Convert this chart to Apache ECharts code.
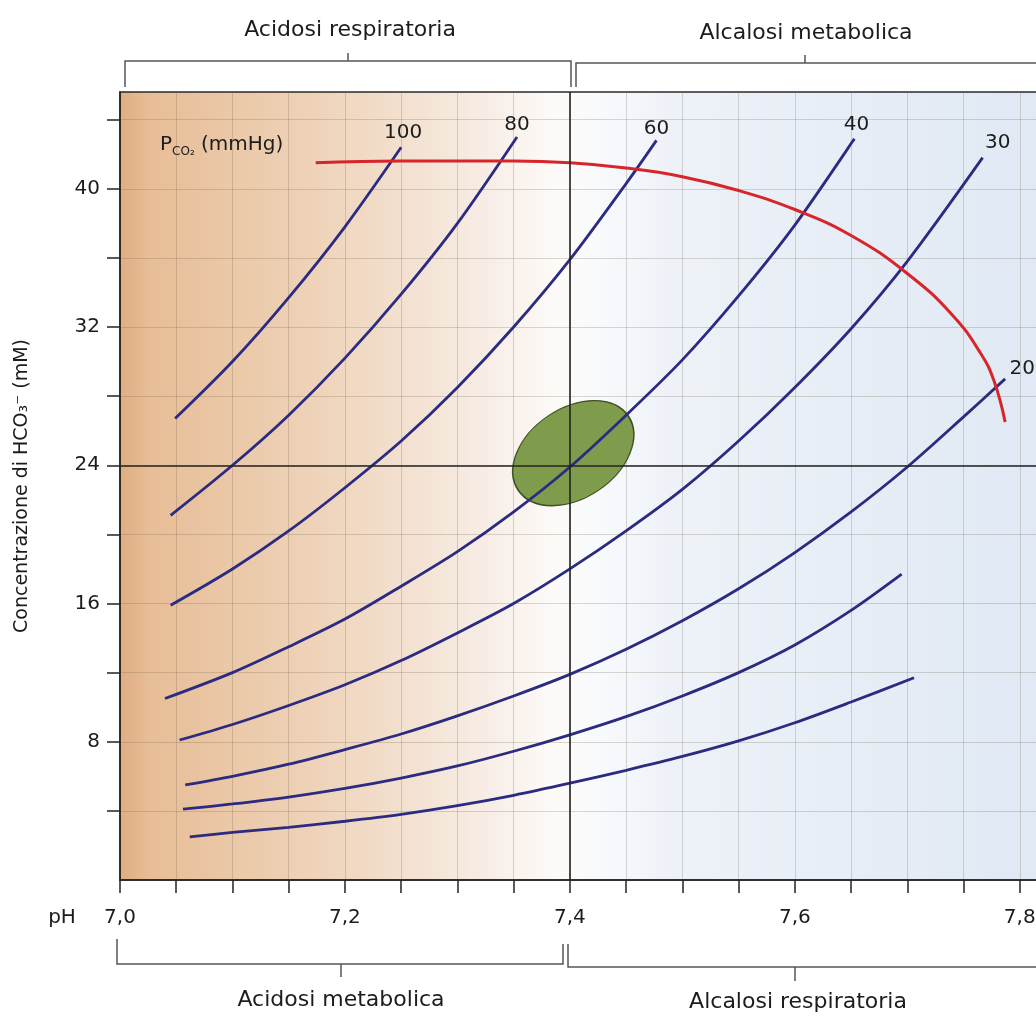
<!DOCTYPE html>
<html>
<head>
<meta charset="utf-8">
<title>Diagramma di Davenport</title>
<script src="https://cdn.jsdelivr.net/npm/echarts@6/dist/echarts.min.js"></script>
<style>
  html, body { margin: 0; padding: 0; background: #fff; }
  #chart { width: 1036px; height: 1018px; }
</style>
</head>
<body>
<div id="chart"></div>
<script>
// Isobare PCO2 (mmHg): coppie [pH, HCO3- mM]
const pco2Levels = [100, 80, 60, 40, 30, 20, 15, 10];
const isobar100 = [[7.049, 26.7], [7.10, 30.0], [7.15, 33.7], [7.20, 37.8], [7.25, 42.4]];
const isobar80 = [[7.045, 21.1], [7.10, 24.0], [7.15, 26.9], [7.20, 30.2], [7.25, 33.9], [7.30, 38.0], [7.353, 43.0]];
const isobar60 = [[7.045, 15.9], [7.10, 18.0], [7.15, 20.2], [7.20, 22.7], [7.25, 25.4], [7.30, 28.5], [7.35, 32.0],
  [7.40, 35.9], [7.45, 40.3], [7.477, 42.8]];
const isobar40 = [[7.040, 10.5], [7.10, 12.0], [7.15, 13.5], [7.20, 15.1], [7.25, 17.0], [7.30, 19.0], [7.35, 21.3],
  [7.40, 23.9], [7.45, 26.9], [7.50, 30.1], [7.55, 33.8], [7.60, 37.9], [7.653, 42.9]];
const isobar30 = [[7.053, 8.1], [7.10, 9.0], [7.15, 10.1], [7.20, 11.3], [7.25, 12.7], [7.30, 14.3], [7.35, 16.0],
  [7.40, 18.0], [7.45, 20.2], [7.50, 22.6], [7.55, 25.4], [7.60, 28.5], [7.65, 31.9], [7.70, 35.8], [7.767, 41.8]];
const isobar20 = [[7.058, 5.5], [7.10, 6.0], [7.15, 6.7], [7.20, 7.55], [7.25, 8.45], [7.30, 9.5], [7.35, 10.65],
  [7.40, 11.9], [7.45, 13.35], [7.50, 15.0], [7.55, 16.85], [7.60, 18.95], [7.65, 21.3], [7.70, 23.9], [7.75, 26.8], [7.787, 29.0]];
const isobar15 = [[7.056, 4.1], [7.10, 4.4], [7.15, 4.8], [7.20, 5.3], [7.25, 5.9], [7.30, 6.6], [7.35, 7.45],
  [7.40, 8.4], [7.45, 9.45], [7.50, 10.65], [7.55, 12.0], [7.60, 13.6], [7.65, 15.6], [7.695, 17.7]];
const isobar10 = [[7.062, 2.5], [7.10, 2.75], [7.15, 3.05], [7.20, 3.4], [7.25, 3.8], [7.30, 4.3], [7.35, 4.9],
  [7.40, 5.6], [7.45, 6.35], [7.50, 7.15], [7.55, 8.05], [7.60, 9.1], [7.65, 10.3], [7.706, 11.7]];
const isobars = [isobar100, isobar80, isobar60, isobar40, isobar30, isobar20, isobar15, isobar10];

// curva rossa
const bufferLine = [[7.174, 41.5], [7.25, 41.6], [7.35, 41.6], [7.40, 41.5], [7.45, 41.2], [7.50, 40.7],
  [7.55, 39.9], [7.60, 38.8], [7.65, 37.3], [7.70, 35.1], [7.74, 32.7], [7.765, 30.5], [7.777, 28.9], [7.787, 26.5]];

// zona normale (ellisse verde): centro, semiassi [pH, mM], inclinazione in gradi
const normalCenter = [7.403, 24.7];
const normalRadii = [0.059, 2.6];
const normalTilt = 34;

// etichette delle isobare (solo le prime sei)
const labelledLevels = [100, 80, 60, 40, 30, 20];
const labelOffsets = { 100: [2, -15], 80: [0, -12], 60: [0, -12], 40: [2, -14], 30: [15, -15], 20: [17, -10] };

const xTickLabels = ['7,0', '7,2', '7,4', '7,6', '7,8'];
const yTickValues = [4, 8, 12, 16, 20, 24, 28, 32, 36, 40, 44];
const yTickLabels = [8, 16, 24, 32, 40];

const FONT = '"DejaVu Sans", "Liberation Sans", sans-serif';
const BLUE = '#2b2b82';
const INK = '#1c1c1c';

const chart = echarts.init(document.getElementById('chart'), null, { renderer: 'canvas' });

const isobarSeries = isobars.map((pts, i) => ({
  name: 'PCO2 ' + pco2Levels[i],
  type: 'line',
  data: pts,
  smooth: 0.3,
  showSymbol: false,
  symbol: 'none',
  lineStyle: { color: BLUE, width: 2.8 },
  z: 3
}));

const labelData = labelledLevels.map(level => {
  const pts = isobars[pco2Levels.indexOf(level)];
  const last = pts[pts.length - 1];
  return {
    value: last,
    name: String(level),
    label: { offset: labelOffsets[level] }
  };
});

chart.setOption({
  animation: false,
  textStyle: { fontFamily: FONT },
  grid: {
    left: 120, top: 92, width: 956, height: 788,
    outerBoundsMode: 'none',
    containLabel: false,
    show: true,
    borderColor: '#2a2a2a',
    borderWidth: 1.5,
    backgroundColor: {
      type: 'linear', x: 0, y: 0, x2: 1, y2: 0,
      colorStops: [
        { offset: 0, color: '#e0ad80' },
        { offset: 0.03, color: '#e7bd96' },
        { offset: 0.22, color: '#efd5bc' },
        { offset: 0.377, color: '#f7ece4' },
        { offset: 0.46, color: '#fdfbf9' },
        { offset: 0.5, color: '#f8fafd' },
        { offset: 0.575, color: '#eef2f8' },
        { offset: 0.958, color: '#e0e9f4' },
        { offset: 1, color: '#dde7f3' }
      ]
    }
  },
  xAxis: {
    type: 'value',
    min: 7.0, max: 7.85, interval: 0.05,
    axisLine: { show: true, lineStyle: { color: '#222', width: 1.5 } },
    axisTick: { show: true, inside: false, length: 13, lineStyle: { color: '#222', width: 1.5 } },
    axisLabel: {
      margin: 28, color: INK, fontSize: 20, fontFamily: FONT,
      formatter: v => {
        const k = Math.round((v - 7) * 100);
        return k % 20 === 0 ? (xTickLabels[k / 20] || '') : '';
      }
    },
    splitLine: { show: true, lineStyle: { color: 'rgba(110,100,75,0.25)', width: 1 } }
  },
  yAxis: {
    type: 'value',
    min: 0, max: 45.6, interval: 4,
    name: 'Concentrazione di HCO₃⁻ (mM)',
    nameLocation: 'middle',
    nameRotate: 90,
    nameGap: 88,
    nameTextStyle: { fontSize: 19, color: INK, fontFamily: FONT },
    axisLine: { show: true, lineStyle: { color: '#222', width: 1.5 } },
    axisTick: { show: true, inside: false, length: 13, customValues: yTickValues, lineStyle: { color: '#222', width: 1.5 } },
    axisLabel: {
      margin: 20, color: INK, fontSize: 20, fontFamily: FONT,
      customValues: yTickLabels,
      formatter: v => (yTickLabels.indexOf(Math.round(v * 10) / 10) >= 0 ? String(v) : '')
    },
    splitLine: { show: true, lineStyle: { color: 'rgba(110,100,75,0.25)', width: 1 } }
  },
  series: [
    {
      name: 'normale',
      type: 'custom',
      data: [[normalCenter[0], normalCenter[1], normalRadii[0], normalRadii[1], normalTilt]],
      renderItem: (params, api) => {
        const c = api.coord([api.value(0), api.value(1)]);
        const s = api.size([api.value(2), api.value(3)]);
        return {
          type: 'circle',
          x: c[0], y: c[1],
          rotation: api.value(4) * Math.PI / 180,
          scaleX: s[0] / s[1],
          shape: { cx: 0, cy: 0, r: s[1] },
          style: { fill: '#7f9c4d', stroke: '#3e5122', lineWidth: 1.1 }
        };
      },
      z: 1
    },
    {
      name: 'riferimento',
      type: 'line',
      data: [],
      markLine: {
        silent: true,
        symbol: 'none',
        label: { show: false },
        lineStyle: { color: '#222', width: 1.6, type: 'solid' },
        data: [{ xAxis: 7.4 }, { yAxis: 24 }]
      },
      z: 2
    },
    ...isobarSeries,
    {
      name: 'tampone',
      type: 'line',
      data: bufferLine,
      smooth: 0.45,
      showSymbol: false,
      symbol: 'none',
      lineStyle: { color: '#d6262b', width: 3 },
      z: 4
    },
    {
      name: 'etichette',
      type: 'scatter',
      data: labelData,
      symbolSize: 0,
      itemStyle: { opacity: 1 },
      label: {
        show: true, position: 'inside',
        formatter: p => p.name,
        color: INK, fontSize: 20, fontFamily: FONT, opacity: 1
      },
      z: 5
    }
  ],
  graphic: [
    // parentesi superiori
    { type: 'polyline', shape: { points: [[125, 87], [125, 61], [571, 61], [571, 87]] }, style: { stroke: '#555', lineWidth: 1.5, fill: null } },
    { type: 'line', shape: { x1: 348, y1: 61, x2: 348, y2: 53 }, style: { stroke: '#555', lineWidth: 1.5 } },
    { type: 'text', x: 350, y: 30, style: { text: 'Acidosi respiratoria', font: '22px ' + FONT, fill: INK, align: 'center', verticalAlign: 'middle' } },
    { type: 'polyline', shape: { points: [[576, 87], [576, 63], [1036, 63]] }, style: { stroke: '#555', lineWidth: 1.5, fill: null } },
    { type: 'line', shape: { x1: 805, y1: 63, x2: 805, y2: 55 }, style: { stroke: '#555', lineWidth: 1.5 } },
    { type: 'text', x: 806, y: 33, style: { text: 'Alcalosi metabolica', font: '22px ' + FONT, fill: INK, align: 'center', verticalAlign: 'middle' } },
    // parentesi inferiori
    { type: 'polyline', shape: { points: [[117, 939], [117, 964], [563, 964], [563, 944]] }, style: { stroke: '#555', lineWidth: 1.5, fill: null } },
    { type: 'line', shape: { x1: 341, y1: 964, x2: 341, y2: 977 }, style: { stroke: '#555', lineWidth: 1.5 } },
    { type: 'text', x: 341, y: 1000, style: { text: 'Acidosi metabolica', font: '22px ' + FONT, fill: INK, align: 'center', verticalAlign: 'middle' } },
    { type: 'polyline', shape: { points: [[568, 944], [568, 967], [1036, 967]] }, style: { stroke: '#555', lineWidth: 1.5, fill: null } },
    { type: 'line', shape: { x1: 795, y1: 967, x2: 795, y2: 981 }, style: { stroke: '#555', lineWidth: 1.5 } },
    { type: 'text', x: 798, y: 1002, style: { text: 'Alcalosi respiratoria', font: '22px ' + FONT, fill: INK, align: 'center', verticalAlign: 'middle' } },
    // pH e PCO2
    { type: 'text', x: 62, y: 918, style: { text: 'pH', font: '20px ' + FONT, fill: INK, align: 'center', verticalAlign: 'middle' } },
    {
      type: 'text', x: 160, y: 145,
      style: {
        text: '{p|P}{s|CO₂}{p| (mmHg)}',
        verticalAlign: 'middle',
        fill: INK,
        rich: {
          p: { fontSize: 20, fontFamily: FONT, lineHeight: 26, fill: INK, verticalAlign: 'middle' },
          s: { fontSize: 12, fontFamily: FONT, lineHeight: 14, fill: INK, verticalAlign: 'bottom' }
        }
      }
    }
  ]
});
</script>
</body>
</html>
